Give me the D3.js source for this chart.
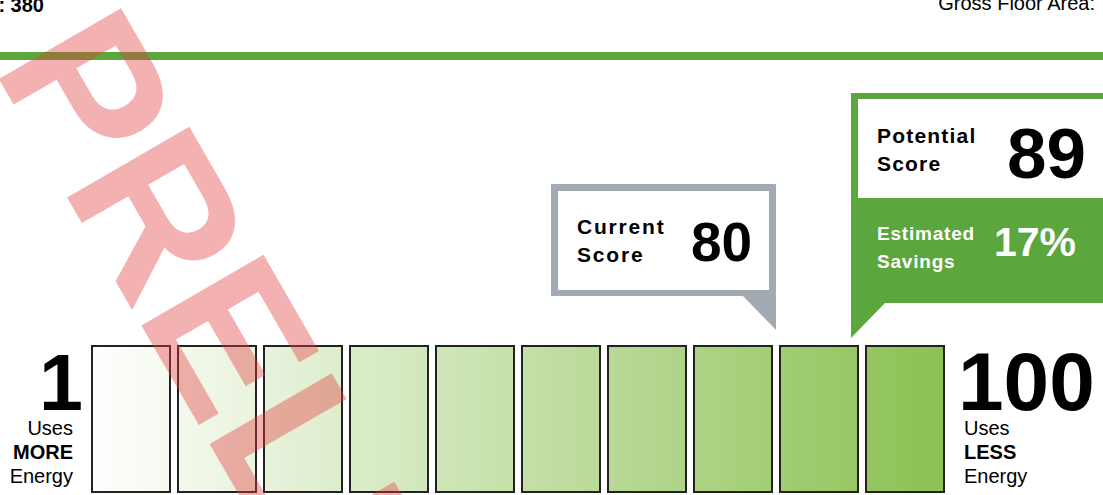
<!DOCTYPE html>
<html>
<head>
<meta charset="utf-8">
<script src="https://cdn.jsdelivr.net/npm/d3@7"></script>
<style>
  body { margin: 0; background: #fff; }
  svg { display: block; font-family: "Liberation Sans", Arial, sans-serif; }
</style>
</head>
<body>
<div id="scale"></div>
<script>
// Score bins shown as boxes (1 = uses more energy, 100 = uses less)
var bins = ["1-10", "11-20", "21-30", "31-40", "41-50", "51-60", "61-70", "71-80", "81-90", "91-100"];
var binStart = [1, 11, 21, 31, 41, 51, 61, 71, 81, 91];
var currentScore = 80;
var potentialScore = 89;
var savingsText = "17%";
var headerLeft = "ID: 380";
var headerRight = "Gross Floor Area:";
var endLabels = ["1", "100"];
var endText = [["Uses", "MORE", "Energy"], ["Uses", "LESS", "Energy"]];
var watermark = "PRELIMINARY";

var svgWidth = 1103;
var svgHeight = 495;

var green = "#5ba73d";
var grey = "#a2aab3";

var svg = d3.select("#scale")
  .append("svg")
  .attr("width", svgWidth)
  .attr("height", svgHeight);

var defs = svg.append("defs");

// band scale for the ten boxes
var x = d3.scaleBand()
  .domain(bins)
  .range([91, 945])
  .paddingInner(6 / 86)
  .paddingOuter(0);

var grad = defs.append("linearGradient")
  .attr("id", "boxGrad")
  .attr("gradientUnits", "userSpaceOnUse")
  .attr("x1", x.range()[0]).attr("x2", x.range()[1])
  .attr("y1", 0).attr("y2", 0);
grad.append("stop").attr("offset", "0%").attr("stop-color", "#ffffff");
grad.append("stop").attr("offset", "100%").attr("stop-color", "#8bc152");

// score -> x position inside its box
function scoreX(s) {
  var i = Math.min(bins.length - 1, Math.floor((s - 1) / 10));
  var frac = (s - binStart[i] + 1) / 10;
  return x(bins[i]) + frac * x.bandwidth();
}

// header
svg.append("text")
  .attr("x", 44).attr("y", 12)
  .attr("text-anchor", "end")
  .attr("font-size", 20)
  .attr("font-weight", "bold")
  .text(headerLeft);

svg.append("text")
  .attr("x", 1095).attr("y", 10)
  .attr("text-anchor", "end")
  .attr("font-size", 20)
  .text(headerRight);

svg.append("rect")
  .attr("x", 0).attr("y", 52)
  .attr("width", svgWidth).attr("height", 8)
  .attr("fill", green);

// boxes
var boxTop = 345;
var boxBottom = 493;
svg.append("g")
  .selectAll("rect")
  .data(bins)
  .enter()
  .append("rect")
  .attr("x", d => x(d) + 1)
  .attr("y", boxTop + 1)
  .attr("width", x.bandwidth() - 2)
  .attr("height", boxBottom - boxTop - 2)
  .attr("fill", "url(#boxGrad)")
  .attr("stroke", "#222")
  .attr("stroke-width", 2);

// end labels
var ends = [
  { x: 83, anchor: "end", sub: 73, size: 79 },
  { x: 958, anchor: "start", sub: 964, size: 82 }
];
ends.forEach(function (e, i) {
  svg.append("text")
    .attr("x", e.x).attr("y", 410)
    .attr("text-anchor", e.anchor)
    .attr("font-size", e.size)
    .attr("font-weight", "bold")
    .text(endLabels[i]);
  endText[i].forEach(function (t, j) {
    svg.append("text")
      .attr("x", e.sub).attr("y", 435 + j * 24)
      .attr("text-anchor", e.anchor)
      .attr("font-size", 20)
      .attr("font-weight", j === 1 ? "bold" : "normal")
      .text(t);
  });
});

// current score callout (pointer at right edge)
var cx = scoreX(currentScore) + 3;
var cur = svg.append("g");
cur.append("rect")
  .attr("x", cx - 225).attr("y", 184)
  .attr("width", 225).attr("height", 112)
  .attr("fill", grey);
cur.append("path")
  .attr("d", "M" + (cx - 34) + ",295 L" + cx + ",295 L" + cx + ",330 Z")
  .attr("fill", grey);
cur.append("rect")
  .attr("x", cx - 218).attr("y", 191)
  .attr("width", 211).attr("height", 99)
  .attr("fill", "#fff");
cur.append("text")
  .attr("x", cx - 199).attr("y", 234)
  .attr("font-size", 21).attr("font-weight", "bold")
  .attr("letter-spacing", 1.8)
  .text("Current");
cur.append("text")
  .attr("x", cx - 199).attr("y", 262)
  .attr("font-size", 21).attr("font-weight", "bold")
  .attr("letter-spacing", 1.8)
  .text("Score");
cur.append("text")
  .attr("x", cx - 85).attr("y", 261)
  .attr("font-size", 55).attr("font-weight", "bold")
  .text(currentScore);

// potential score callout (pointer at left edge)
var px = scoreX(potentialScore);
var pot = svg.append("g");
pot.append("rect")
  .attr("x", px).attr("y", 93)
  .attr("width", svgWidth - px + 10).attr("height", 210)
  .attr("fill", green);
pot.append("path")
  .attr("d", "M" + px + ",302 L" + (px + 35) + ",302 L" + px + ",338 Z")
  .attr("fill", green);
pot.append("rect")
  .attr("x", px + 7).attr("y", 99)
  .attr("width", svgWidth - px).attr("height", 99)
  .attr("fill", "#fff");
pot.append("text")
  .attr("x", px + 26).attr("y", 143)
  .attr("font-size", 21).attr("font-weight", "bold")
  .attr("letter-spacing", 1.2)
  .text("Potential");
pot.append("text")
  .attr("x", px + 26).attr("y", 171)
  .attr("font-size", 21).attr("font-weight", "bold")
  .attr("letter-spacing", 1.2)
  .text("Score");
pot.append("text")
  .attr("x", px + 156).attr("y", 178)
  .attr("font-size", 71).attr("font-weight", "bold")
  .text(potentialScore);
pot.append("text")
  .attr("x", px + 26).attr("y", 240)
  .attr("font-size", 19).attr("font-weight", "bold")
  .attr("letter-spacing", 0.8)
  .attr("fill", "#fff")
  .text("Estimated");
pot.append("text")
  .attr("x", px + 26).attr("y", 268)
  .attr("font-size", 19).attr("font-weight", "bold")
  .attr("letter-spacing", 0.8)
  .attr("fill", "#fff")
  .text("Savings");
pot.append("text")
  .attr("x", px + 143).attr("y", 256)
  .attr("font-size", 41).attr("font-weight", "bold")
  .attr("fill", "#fff")
  .text(savingsText);

// watermark on top
svg.append("text")
  .attr("transform", "translate(-8,67) rotate(60)")
  .attr("font-size", 205)
  .attr("font-weight", "bold")
  .attr("fill", "rgb(228,60,62)")
  .attr("fill-opacity", 0.4)
  .text(watermark);
</script>
</body>
</html>
